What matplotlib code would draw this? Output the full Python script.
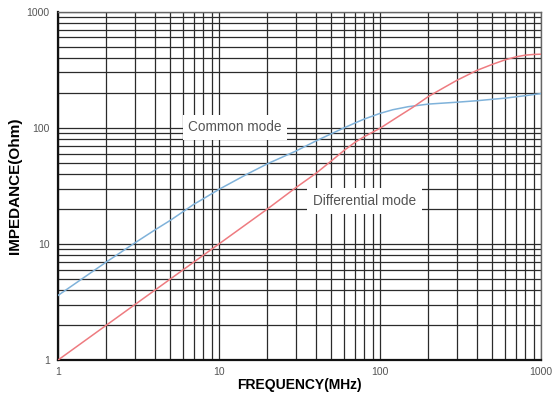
import matplotlib
matplotlib.use("Agg")
import matplotlib.pyplot as plt
from matplotlib.ticker import LogLocator, FixedLocator, NullFormatter

plt.rcParams["font.family"] = ["Liberation Sans", "DejaVu Sans"]

# values (frequency in MHz, impedance in Ohm)
CM_FREQ = [1, 2, 3, 4, 5, 6, 7, 8, 10, 15, 20, 30, 40, 50, 60, 70, 80, 100,
           120, 150, 200, 300, 400, 500, 600, 800, 1000]
CM_IMP = [3.6, 7.0, 10.2, 13.2, 16.0, 19.0, 22.0, 24.5, 29.5, 40, 49, 63, 77, 89,
          100, 110, 119, 133, 143, 152, 160, 166, 171, 176, 180, 189, 197]
DM_FREQ = [1, 2, 3, 5, 10, 20, 30, 40, 50, 60, 70, 80, 100, 130, 160, 200, 250,
           300, 400, 500, 600, 700, 800, 900, 1000]
DM_IMP = [1.0, 2.0, 3.0, 5.0, 10, 20, 30.5, 40.5, 52, 64, 75, 84, 99, 125, 150,
          186, 222, 256, 312, 352, 385, 408, 422, 428, 430]

BLUE = "#7fb2da"
RED = "#ee7b80"
GRID = "#2b2b2b"
TXT = "#555555"

fig = plt.figure(figsize=(5.52, 4.01), dpi=100)
ax = fig.add_axes([0.105, 0.102, 0.875, 0.869])

ax.plot(CM_FREQ, CM_IMP, color=BLUE, lw=1.1, zorder=3)
ax.plot(DM_FREQ, DM_IMP, color=RED, lw=1.1, zorder=3)

ax.set_xscale("log")
ax.set_yscale("log")
ax.set_xlim(1, 1000)
ax.set_ylim(1, 1000)

ax.xaxis.set_major_locator(FixedLocator([1, 10, 100, 1000]))
ax.yaxis.set_major_locator(FixedLocator([1, 10, 100, 1000]))
ax.xaxis.set_minor_locator(LogLocator(base=10, subs=range(2, 10)))
ax.yaxis.set_minor_locator(LogLocator(base=10, subs=range(2, 10)))
ax.xaxis.set_minor_formatter(NullFormatter())
ax.yaxis.set_minor_formatter(NullFormatter())
ax.set_xticklabels(["1", "10", "100", "1000"])
ax.set_yticklabels(["1", "10", "100", "1000"])

ax.grid(True, which="both", color=GRID, lw=0.9, zorder=1)
ax.tick_params(which="both", length=0, labelsize=7.5, labelcolor=TXT)
ax.tick_params(axis="x", pad=5)
ax.tick_params(axis="y", pad=6)

for side in ["left", "bottom"]:
    ax.spines[side].set_color("#111111")
    ax.spines[side].set_linewidth(1.6)
for side in ["top", "right"]:
    ax.spines[side].set_color("#666666")
    ax.spines[side].set_linewidth(1.0)

ax.set_xlabel("FREQUENCY(MHz)", fontsize=10, weight="bold", labelpad=1)
ax.set_ylabel("IMPEDANCE(Ohm)", fontsize=11, weight="bold", labelpad=3)

ax.text(12.6, 101, "Common mode", fontsize=9.8, color=TXT, ha="center", va="center",
        bbox=dict(boxstyle="square,pad=0.4", fc="white", ec="none"), zorder=4)
ax.text(80, 23.4, "Differential mode", fontsize=9.8, color=TXT, ha="center",
        va="center", bbox=dict(boxstyle="square,pad=0.45", fc="white", ec="none"),
        zorder=4)

plt.savefig("out.png", dpi=100)
